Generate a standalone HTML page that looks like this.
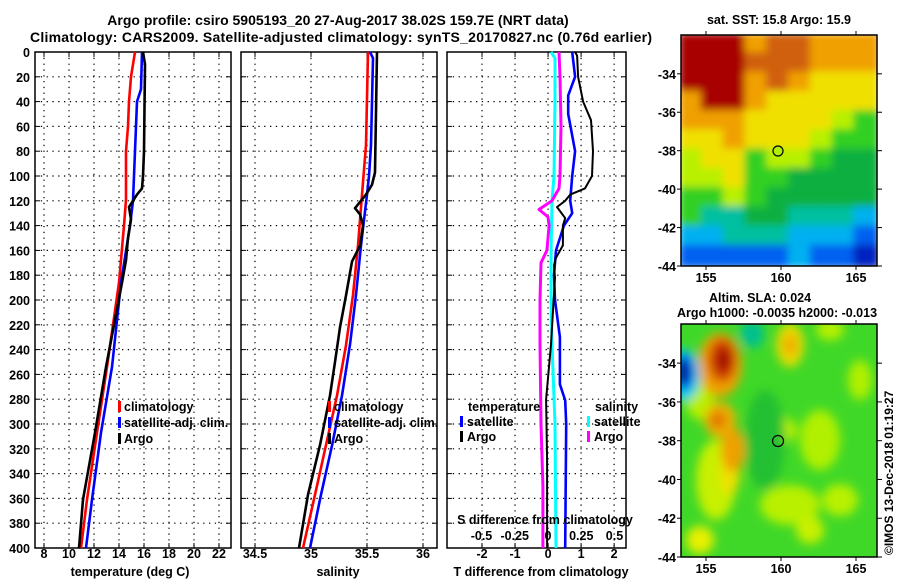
<!DOCTYPE html>
<html><head><meta charset="utf-8"><style>
body{margin:0;background:#fff}
svg text{font-family:"Liberation Sans",sans-serif;font-weight:bold;fill:#000}
</style></head><body>
<svg id="s" width="900" height="580" viewBox="0 0 900 580" xmlns="http://www.w3.org/2000/svg">
<defs>
<filter id="bl" x="-5%" y="-5%" width="110%" height="110%"><feGaussianBlur stdDeviation="4"/></filter>
<filter id="bl2" x="-50%" y="-50%" width="200%" height="200%"><feGaussianBlur stdDeviation="5"/></filter>
<clipPath id="c1"><rect x="681" y="35" width="196" height="231"/></clipPath>
<clipPath id="c2"><rect x="681" y="324" width="196" height="233"/></clipPath>
</defs>
<text x="338" y="25" font-size="14" text-anchor="middle">Argo profile: csiro 5905193_20 27-Aug-2017 38.02S 159.7E (NRT data)</text>
<text x="30" y="42" font-size="14" textLength="622">Climatology: CARS2009. Satellite-adjusted climatology: synTS_20170827.nc (0.76d earlier)</text>
<g id="plots"></g>
<g id="maps"></g>
</svg>
<script>
// ---- data ----
const depthTicks=[0,20,40,60,80,100,120,140,160,180,200,220,240,260,280,300,320,340,360,380,400];
const tTicks=[8,10,12,14,16,18,20,22];
const sTicks=[34.5,35,35.5,36];
const dTTicks=[-2,-1,0,1,2];
const dSTicks=[-0.5,-0.25,0,0.25,0.5];
const dSTickLabels=["-0.5","-0.25","0","0.25","0.5"];

const tClimDepth=[0,20,40,60,80,100,119,140,186,254,307,361,400];
const tClim=[15.28,14.96,14.8,14.72,14.56,14.56,14.56,14.4,14.0,13.04,12.24,11.44,10.96];
const tSatDepth=[0,30,40,60,80,100,120,140,186,254,307,361,400];
const tSat=[15.84,15.76,15.44,15.36,15.28,15.2,15.12,14.88,14.16,13.44,12.56,11.84,11.36];
const tArgoDepth=[0,10,80,100,110,115,120,125,130,135,150,168,186,254,307,361,400];
const tArgo=[15.92,16.08,16.0,15.92,15.84,15.44,15.12,14.8,14.88,14.96,14.72,14.56,14.24,12.96,12.08,11.12,10.8];

const sClimDepth=[0,75,115,156,196,236,277,317,357,400];
const sClim=[35.509,35.491,35.455,35.42,35.375,35.313,35.232,35.134,35.036,34.929];
const sSatDepth=[0,5,75,100,115,156,196,236,277,317,357,400];
const sSat=[35.527,35.554,35.536,35.518,35.5,35.446,35.402,35.348,35.277,35.188,35.089,34.991];
const sArgoDepth=[0,97,107,115,126,131,140,156,169,196,222,250,277,317,357,400];
const sArgo=[35.589,35.571,35.545,35.491,35.393,35.438,35.464,35.438,35.366,35.313,35.259,35.214,35.17,35.08,34.973,34.893];

const dTArgoDepth=[0,3,20,40,55,80,100,110,115,120,125,134,140,156,166,172,182,222,236,280,330,400];
const dTArgo=[0.82,0.88,0.91,1.06,1.30,1.36,1.33,1.12,0.67,0.52,0.27,0.52,0.45,0.45,0.24,0.18,0.21,0.12,0.09,-0.06,-0.03,-0.03];
const dTSatDepth=[0,20,35,50,80,100,120,130,140,160,180,200,230,268,281,300,400];
const dTSat=[0.73,0.82,0.61,0.61,0.82,0.73,0.67,0.73,0.48,0.24,0.18,0.21,0.36,0.36,0.52,0.55,0.52];
const dSArgoDepth=[0,20,60,100,110,120,127,133,140,160,170,200,236,300,350,400];
const dSArgo=[0.083,0.09,0.098,0.09,0.083,0.03,-0.068,0,0.008,-0.008,-0.053,-0.06,-0.06,-0.053,-0.038,-0.038];
const dSSatDepth=[0,5,40,100,120,160,200,236,300,400];
const dSSat=[0.023,0.053,0.053,0.045,0.03,0.023,0.023,0.03,0.053,0.06];

const NS='http://www.w3.org/2000/svg';
const root=document.getElementById('plots');
function el(tag,attrs,parent,text){const e=document.createElementNS(NS,tag);for(const k in attrs)e.setAttribute(k,attrs[k]);if(text!==undefined)e.textContent=text;(parent||root).appendChild(e);return e;}
const TOP=52,BOT=548;
const yD=d=>TOP+(BOT-TOP)*d/400;
function lin(d0,d1,r0,r1){return v=>r0+(v-d0)*(r1-r0)/(d1-d0);}
const P1={x0:35,x1:231,sx:lin(7.28,22.96,35,231)};
const P2={x0:241,x1:437,sx:lin(34.375,36.125,241,437)};
const P3={x0:447,x1:626,sx:lin(-3.06,2.36,447,626)};
const sxS=lin(-0.5,0.5,481.5,614.5);
const FS=12.5;

function frame(P,name,vt,sxf){
  const g=el('g',{});
  
  
  depthTicks.forEach(d=>{if(d>0&&d<400){const l=el('line',{x1:P.x0,x2:P.x1,y1:yD(d),y2:yD(d),stroke:'#000','stroke-width':1.2,'stroke-dasharray':'1.3,4.5'},g);
    el('line',{x1:P.x0,x2:P.x0+5,y1:yD(d),y2:yD(d),stroke:'#000','stroke-width':1},g);el('line',{x1:P.x1-5,x2:P.x1,y1:yD(d),y2:yD(d),stroke:'#000','stroke-width':1},g);}});
  vt.forEach(v=>{const x=sxf(v);const l=el('line',{x1:x,x2:x,y1:TOP,y2:BOT,stroke:'#000','stroke-width':1.2,'stroke-dasharray':'1.3,4.5'},g);
    el('line',{x1:x,x2:x,y1:BOT-5,y2:BOT,stroke:'#000'},g);el('line',{x1:x,x2:x,y1:TOP,y2:TOP+5,stroke:'#000'},g);});
  const r=el('rect',{x:P.x0,y:TOP,width:P.x1-P.x0,height:BOT-TOP,fill:'none',stroke:'#000','stroke-width':1.5},g);
  
  return g;
}
function line(depths,vals,sxf,color,name,w){
  const pts=depths.map((d,i)=>sxf(vals[i]).toFixed(1)+','+yD(d).toFixed(1)).join(' ');
  const p=el('polyline',{points:pts,fill:'none',stroke:color,'stroke-width':w||2.6,'stroke-linejoin':'round'});
  
  
}
function txt(x,y,s,anchor,size,name,fill){const t=el('text',{x:x,y:y,'font-size':size||FS,'text-anchor':anchor||'start'},root,s);if(fill)t.setAttribute('fill',fill);
  
  return t;}
function legMark(x,y,color){const r=el('rect',{x:x,y:y-10,width:3,height:11,fill:color});
  
  }

// panel 1
frame(P1,'temperature-panel',tTicks,P1.sx);
depthTicks.forEach(d=>txt(30,yD(d)+5,String(d),'end',FS,'y-tick-label'));
tTicks.forEach(v=>txt(P1.sx(v),558,String(v),'middle',FS,'x-tick-label'));
txt(130,576,'temperature (deg C)','middle',FS,'x-axis-title');
line(tClimDepth,tClim,P1.sx,'#ff0000','temp-climatology-line');
line(tSatDepth,tSat,P1.sx,'#0000ff','temp-satellite-line');
line(tArgoDepth,tArgo,P1.sx,'#000','temp-argo-line');
legMark(118,411,'#f00');txt(124,411,'climatology','start',FS,'legend-entry');
legMark(118,427,'#00f');txt(124,427,'satellite-adj. clim.','start',FS,'legend-entry');
legMark(118,443,'#000');txt(124,443,'Argo','start',FS,'legend-entry');

// panel 2
frame(P2,'salinity-panel',sTicks,P2.sx);
sTicks.forEach(v=>txt(P2.sx(v),558,String(v),'middle',FS,'x-tick-label'));
txt(338,576,'salinity','middle',FS,'x-axis-title');
line(sClimDepth,sClim,P2.sx,'#ff0000','sal-climatology-line');
line(sSatDepth,sSat,P2.sx,'#0000ff','sal-satellite-line');
line(sArgoDepth,sArgo,P2.sx,'#000','sal-argo-line');
legMark(328,411,'#f00');txt(334,411,'climatology','start',FS,'legend-entry');
legMark(328,427,'#00f');txt(334,427,'satellite-adj. clim.','start',FS,'legend-entry');
legMark(328,443,'#000');txt(334,443,'Argo','start',FS,'legend-entry');

// panel 3
frame(P3,'difference-panel',dTTicks,P3.sx);
dTTicks.forEach(v=>txt(P3.sx(v),558,String(v),'middle',FS,'x-tick-label'));
txt(541,576,'T difference from climatology','middle',FS,'x-axis-title');
line(dSSatDepth,dSSat,sxS,'#00ffff','sdiff-satellite-line',3);
line(dSArgoDepth,dSArgo,sxS,'#ff00ff','sdiff-argo-line',3);
line(dTSatDepth,dTSat,P3.sx,'#0000ff','tdiff-satellite-line');
line(dTArgoDepth,dTArgo,P3.sx,'#000','tdiff-argo-line',2);
txt(468,411,'temperature','start',FS,'legend-title');
legMark(460,426,'#00f');txt(467,426,'satellite','start',FS,'legend-entry');
legMark(460,441,'#000');txt(467,441,'Argo','start',FS,'legend-entry');
txt(595,411,'salinity','start',FS,'legend-title');
legMark(587,426,'#0ff');txt(594,426,'satellite','start',FS,'legend-entry');
legMark(587,441,'#f0f');txt(594,441,'Argo','start',FS,'legend-entry');
txt(545,524,'S difference from climatology','middle',FS,'s-axis-title');
dSTicks.forEach((v,i)=>txt(sxS(v),540,dSTickLabels[i],'middle',FS,'s-tick-label'));

// ---- maps ----
const mroot=document.getElementById('maps');
const col={R:'#a80000',B:'#d06010',O:'#f0a000',Y:'#f0e000',L:'#b8f000',G:'#30d020',g:'#10b040',T:'#00c0a0',C:'#00b0f0',b:'#0060f0',D:'#0020c0'};
const sstGrid=["RRROBBOOO","RRRBBBOOO","RRROBOYYY","ORROYYYYY","OOOYYYYLG","YYOYYYLGG","LYYGLLGgg","LLYGGgggg","GGLGggggg","GTTggTTTC","CCTTTCCCb","bbbbbCbbD"];
const g1=document.createElementNS(NS,'g');g1.setAttribute('clip-path','url(#c1)');


mroot.appendChild(g1);
const gb=el('g',{filter:'url(#bl)'},g1);
sstGrid.forEach((row,r)=>{[...row].forEach((c,k)=>{el('rect',{x:681+k*21.8-2,y:35+r*19.25-2,width:25.8,height:23.25,fill:col[c]},gb);});});
const g2=document.createElementNS(NS,'g');g2.setAttribute('clip-path','url(#c2)');


mroot.appendChild(g2);
el('rect',{x:681,y:324,width:196,height:233,fill:'#40d828'},g2);
const gb2=el('g',{filter:'url(#bl2)'},g2);
[[700,400,14,20,'#b8f000'],[716,480,20,40,'#c8f000'],[700,540,14,14,'#e8f000'],[790,345,14,22,'#e8e000'],[785,430,12,12,'#b8f000'],[820,440,20,30,'#b0f000'],[790,505,30,20,'#b8f000'],[840,500,18,16,'#b8f000'],[810,530,14,14,'#c8f000'],[860,380,12,20,'#b0f000'],[830,330,14,10,'#b8f000'],
 [752,334,12,14,'#00c090'],[765,440,20,50,'#20c030'],[730,470,10,25,'#f0e000'],
 [720,365,22,32,'#f0a000'],[722,360,14,22,'#d04000'],[724,360,7,12,'#a00000'],[720,420,16,18,'#f0b000'],[718,420,8,8,'#e07000'],[733,450,12,22,'#f0a000'],[790,345,8,12,'#f0b000'],
 [684,375,16,26,'#00d0f0'],[684,372,10,18,'#0040e0'],[683,372,6,12,'#001090']].forEach(e=>el('ellipse',{cx:e[0],cy:e[1],rx:e[2],ry:e[3],fill:e[4]},gb2));

const lonTicks=[155,160,165];
const latTicks=[-34,-36,-38,-40,-42,-44];
const lonX=lin(155,165,706,856);
function mapAxes(y0,y1,name){
  const latY=lin(-34,-44,y0+(y1-y0)*0.168,y1);
  const r=el('rect',{x:681,y:y0,width:196,height:y1-y0,fill:'none',stroke:'#000','stroke-width':1.5},mroot);
  
  lonTicks.forEach(v=>{el('line',{x1:lonX(v),x2:lonX(v),y1:y0-4,y2:y0,stroke:'#000'},mroot);el('line',{x1:lonX(v),x2:lonX(v),y1:y1,y2:y1+4,stroke:'#000'},mroot);
    const t=el('text',{x:lonX(v),y:y1+16,'font-size':FS,'text-anchor':'middle'},mroot,String(v));});
  latTicks.forEach(v=>{const y=latY(v);el('line',{x1:877,x2:882,y1:y,y2:y,stroke:'#000'},mroot);el('line',{x1:677,x2:681,y1:y,y2:y,stroke:'#000'},mroot);
    const t=el('text',{x:676,y:y+5,'font-size':FS,'text-anchor':'end'},mroot,String(v));});
}
mapAxes(35,266,'sst-map-frame');
mapAxes(324,557,'sla-map-frame');
const c1=el('circle',{cx:778,cy:151,r:5,fill:'#b0f000',stroke:'#000','stroke-width':1.2},mroot);

const c2=el('circle',{cx:778,cy:441,r:5.5,fill:'none',stroke:'#000','stroke-width':1.2},mroot);

[[779,24,'sat. SST: 15.8 Argo: 15.9','sst-title'],[760,302,'Altim. SLA: 0.024','sla-title'],[777,317,'Argo h1000: -0.0035 h2000: -0.013','height-title']].forEach(a=>{
  const t=el('text',{x:a[0],y:a[1],'font-size':FS,'text-anchor':'middle'},mroot,a[2]);
  
  });
const cp=el('text',{x:0,y:0,'font-size':12,'font-weight':'normal',transform:'translate(893,555) rotate(-90)'},mroot,'©IMOS 13-Dec-2018 01:19:27');

</script>
</body></html>
